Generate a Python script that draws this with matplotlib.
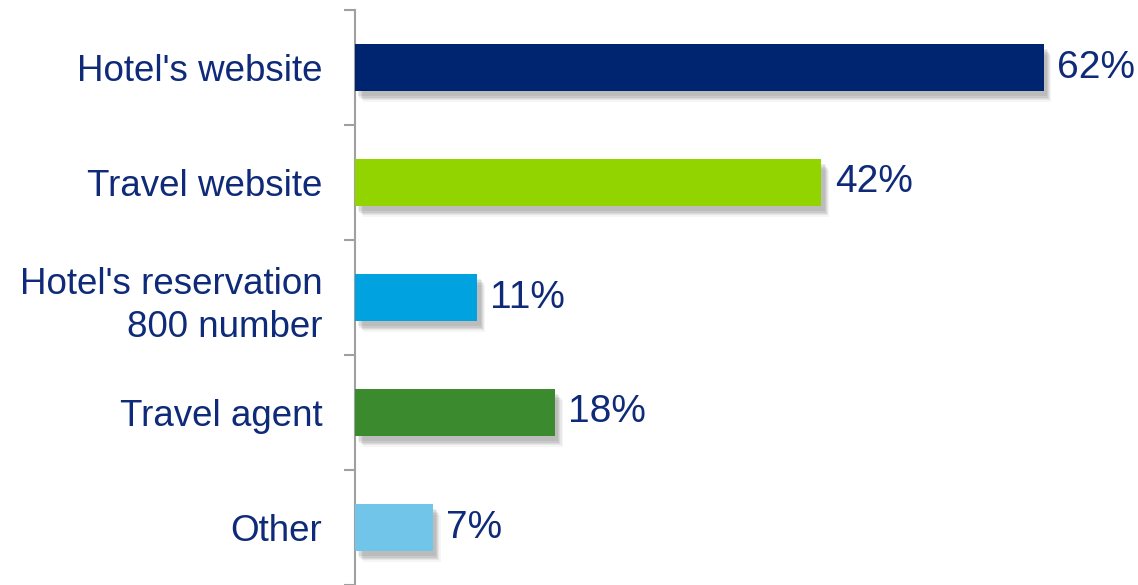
import matplotlib.pyplot as plt
from matplotlib.patches import Rectangle

categories = ["Hotel's website", "Travel website", "Hotel's reservation\n800 number", "Travel agent", "Other"]
values = [62, 42, 11, 18, 7]
colors = ["#002570", "#92D400", "#00A3E0", "#3C8A2E", "#71C5E8"]
text_color = "#0E2A78"

plt.rcParams['font.family'] = ['Liberation Sans', 'DejaVu Sans']

fig = plt.figure(figsize=(11.38, 5.85), dpi=100)
ax = fig.add_axes([355 / 1138, 0, 1 - 355 / 1138, 1 - 10 / 585])

n = len(categories)
ypos = list(range(n))
h = 0.41

# soft drop shadow under each bar
for y, v in zip(ypos, values):
    for k, a in enumerate([0.11, 0.11, 0.10, 0.08, 0.06]):
        ax.add_patch(Rectangle((0.3 + k * 0.1, y - h / 2 + 0.045 + k * 0.012), v, h,
                               color="#555555", alpha=a, lw=0, zorder=1))

ax.barh(ypos, values, height=h, color=colors, zorder=3)

for y, v in zip(ypos, values):
    ax.text(v + 1.2, y, f"{v}%", va="center", ha="left", fontsize=28, color=text_color, zorder=4)

ax.set_xlim(0, 70.5)
ax.set_ylim(n - 0.5, -0.5)
ax.set_yticks(ypos)
ax.set_yticklabels(categories, fontsize=26.5, color=text_color, linespacing=1.3)
ax.set_yticks([i - 0.5 for i in range(n + 1)], minor=True)
ax.tick_params(axis='y', which='major', length=0, pad=23.5)
ax.tick_params(axis='y', which='minor', length=8, width=1.5, color="#A0A0A0")
ax.set_xticks([])
for s in ["top", "right", "bottom"]:
    ax.spines[s].set_visible(False)
ax.spines["left"].set_color("#A0A0A0")
ax.spines["left"].set_linewidth(1.5)

fig.savefig("out.png", dpi=100)
